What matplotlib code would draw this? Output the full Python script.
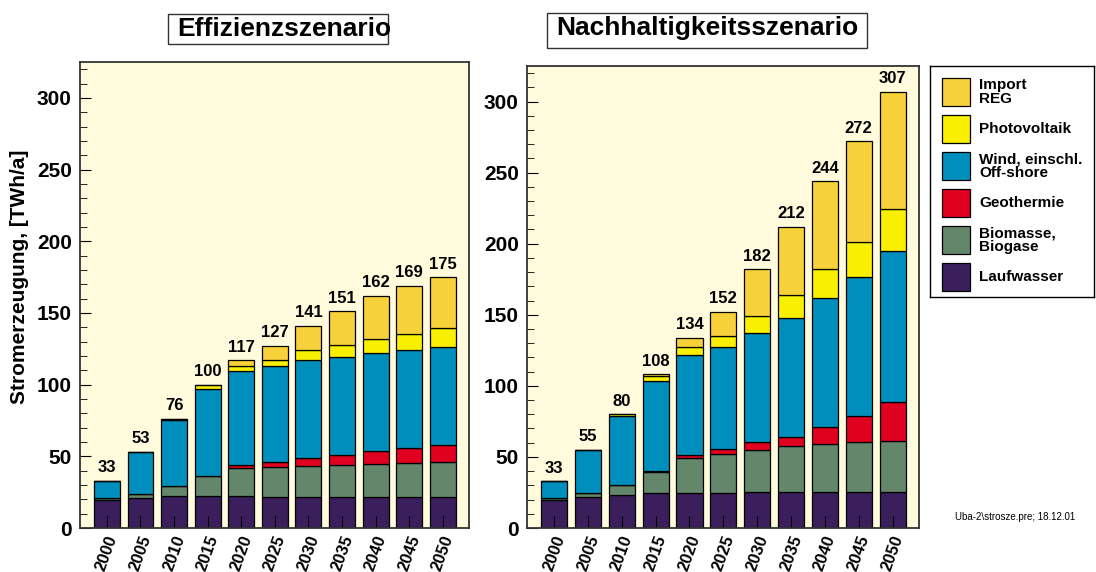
import matplotlib
matplotlib.use('Agg')
import matplotlib.pyplot as plt
from matplotlib.patches import Rectangle
import numpy as np

plt.rcParams['font.family'] = ['Liberation Sans', 'DejaVu Sans']

years = ['2000', '2005', '2010', '2015', '2020', '2025', '2030', '2035', '2040', '2045', '2050']
sources = ['Laufwasser', 'Biomasse,\nBiogase', 'Geothermie', 'Wind, einschl.\nOff-shore',
           'Photovoltaik', 'Import\nREG']
colors = ['#3b1f5d', '#64866b', '#e0001f', '#008fbc', '#f8f000', '#f7d13a']

# Effizienzszenario (TWh/a)
eff_lauf = [19.5, 20.7, 22, 22, 22, 21.5, 21.5, 21.5, 21.5, 21.5, 21.5]
eff_bio = [1.3, 2.8, 7, 14, 20, 21, 22, 22.5, 23.2, 23.6, 24.3]
eff_geo = [0, 0, 0, 0.5, 2, 3.7, 5.5, 7, 9, 10.5, 11.9]
eff_wind = [12.2, 29.5, 46, 60.5, 65.5, 67, 68.2, 68.6, 68.2, 68.6, 68.3]
eff_pv = [0, 0, 1, 2.5, 3.5, 4, 7.2, 8, 10.2, 11.2, 13.3]
eff_imp = [0, 0, 0, 0.5, 4, 9.8, 16.6, 23.4, 29.9, 33.6, 35.7]
eff_total = [33, 53, 76, 100, 117, 127, 141, 151, 162, 169, 175]

# Nachhaltigkeitsszenario (TWh/a)
nh_lauf = [20, 22, 23.4, 24.6, 24.6, 24.6, 25.1, 25.1, 25.1, 25.1, 25.1]
nh_bio = [1.2, 2.6, 6.8, 14.8, 24.6, 27.7, 29.5, 32.3, 34.2, 35.4, 35.8]
nh_geo = [0, 0, 0, 0.9, 1.9, 3.5, 5.6, 6.6, 11.5, 18.3, 27.7]
nh_wind = [11.8, 30.4, 48.6, 63.3, 70.6, 71.5, 76.7, 83.7, 91.2, 97.9, 106.4]
nh_pv = [0, 0, 1.2, 3.1, 5.6, 7.7, 12.2, 16.4, 20.1, 24.7, 29.3]
nh_imp = [0, 0, 0, 1.3, 6.7, 17, 32.9, 47.9, 61.9, 70.6, 82.7]
nh_total = [33, 55, 80, 108, 134, 152, 182, 212, 244, 272, 307]

W, H = 1096, 572
fig = plt.figure(figsize=(W / 100, H / 100), dpi=100)
bg = '#fffbdc'


def px(x0, y0, x1, y1):
    # pixel box (top-left origin) -> figure fraction rect
    return [x0 / W, 1 - y1 / H, (x1 - x0) / W, (y1 - y0) / H]


def stacked(ax, series, totals):
    x = np.arange(len(years))
    bottom = np.zeros(len(years))
    for vals, c in zip(series, colors):
        ax.bar(x, vals, 0.77, bottom=bottom, color=c, edgecolor='black', linewidth=0.9)
        bottom += np.array(vals)
    for xi, top, t in zip(x, bottom, totals):
        ax.annotate(str(t), (xi, top), xytext=(0, 4), textcoords='offset points',
                    ha='center', va='bottom', fontsize=12, fontweight='bold')
    ax.set_facecolor(bg)
    ax.set_ylim(0, 325)
    ax.set_xlim(-0.8, 10.78)
    ax.set_xticks(x)
    ax.set_xticklabels(years, rotation=70, fontsize=12, fontweight='bold',
                       ha='center', va='top')
    ax.set_yticks(np.arange(0, 301, 50))
    ax.set_yticks(np.arange(0, 326, 10), minor=True)
    ax.tick_params(axis='y', which='major', direction='in', length=8, labelsize=15, pad=6)
    ax.tick_params(axis='y', which='minor', direction='in', length=5)
    ax.tick_params(axis='x', direction='in', length=9, pad=4)
    for lab in ax.get_yticklabels():
        lab.set_fontweight('bold')
    for s in ax.spines.values():
        s.set_linewidth(1.3)
        s.set_color('#333333')


ax1 = fig.add_axes(px(80, 62, 469, 528))
stacked(ax1, [eff_lauf, eff_bio, eff_geo, eff_wind, eff_pv, eff_imp], eff_total)
ax1.set_ylabel('Stromerzeugung, [TWh/a]', fontsize=15, fontweight='bold')
ax1.yaxis.set_label_coords(-0.13, 0.54)

ax2 = fig.add_axes(px(527, 66, 919, 528))
stacked(ax2, [nh_lauf, nh_bio, nh_geo, nh_wind, nh_pv, nh_imp], nh_total)

# titles in boxes
fig.patches.append(Rectangle((168 / W, 1 - 44 / H), 220 / W, 30 / H, transform=fig.transFigure,
                             fill=False, edgecolor='#333333', linewidth=1.0))
fig.text(177 / W, 1 - 29 / H, 'Effizienzszenario', fontsize=19, fontweight='bold',
         ha='left', va='center')
fig.patches.append(Rectangle((547 / W, 1 - 48 / H), 320 / W, 35 / H, transform=fig.transFigure,
                             fill=False, edgecolor='#333333', linewidth=1.0))
fig.text(707 / W, 1 - 28 / H, 'Nachhaltigkeitsszenario', fontsize=19, fontweight='bold',
         ha='center', va='center')

# legend box
lax = fig.add_axes(px(930, 66, 1094, 297))
lax.set_xlim(0, 164)
lax.set_ylim(231, 0)
lax.set_xticks([])
lax.set_yticks([])
for s in lax.spines.values():
    s.set_linewidth(1.0)
legend_y = [211, 174, 137, 100, 63, 26]
for name, c, yc in zip(sources, colors, legend_y):
    lax.add_patch(Rectangle((12, yc - 14), 28, 28, facecolor=c, edgecolor='black', linewidth=0.9))
    lax.text(49, yc, name, fontsize=11, fontweight='bold', ha='left', va='center',
             linespacing=1.0)

fig.text(955 / W, 1 - 517 / H, 'Uba-2\\strosze.pre; 18.12.01', fontsize=7, ha='left', va='center')

fig.savefig('out.png', dpi=100)
